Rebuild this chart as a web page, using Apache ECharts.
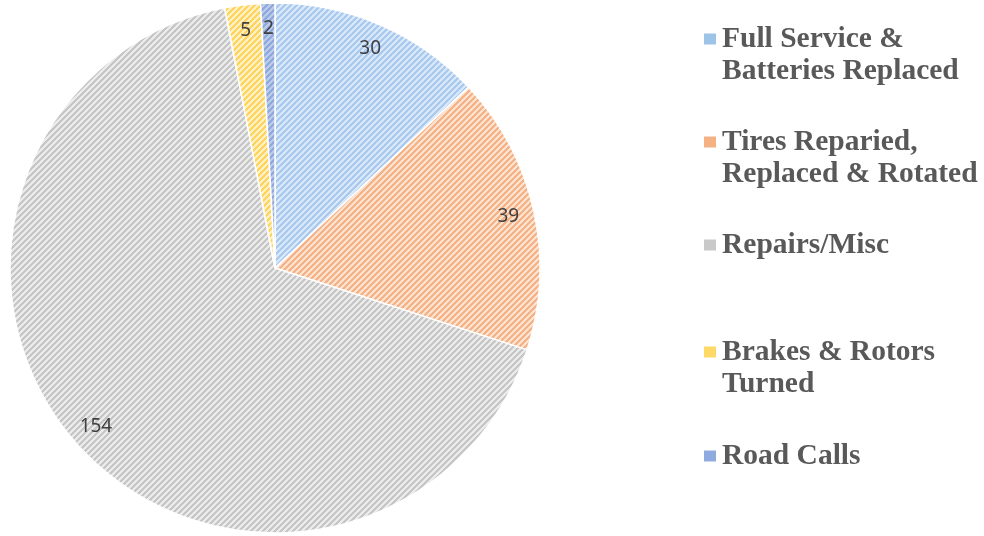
<!DOCTYPE html>
<html>
<head>
<meta charset="utf-8">
<script src="https://cdn.jsdelivr.net/npm/echarts@6/dist/echarts.min.js"></script>
<style>
  html, body { margin: 0; padding: 0; background: #fff; }
  #chart { width: 984px; height: 536px; }
</style>
</head>
<body>
<div id="chart"></div>
<script>
// data
var categories = [
  'Full Service &\nBatteries Replaced',
  'Tires Reparied,\nReplaced & Rotated',
  'Repairs/Misc',
  'Brakes & Rotors\nTurned',
  'Road Calls'
]
var values = [30, 39, 154, 5, 2]

// hatch colours: [stripe, background, legend swatch]
var palette = [
  ['#a9c9ee', '#d9e8f8', '#9dc3e6'],
  ['#f5b287', '#fce2cf', '#f4b183'],
  ['#c6c6c6', '#ebebeb', '#c9c9c9'],
  ['#ffd45e', '#fff1c4', '#ffd966'],
  ['#8eaadc', '#bccbea', '#8faadc']
]
var legendCenters = [39, 142, 245, 352, 456]

function hatch (fg, bg) {
  var size = 6
  var c = document.createElement('canvas')
  c.width = size
  c.height = size
  var ctx = c.getContext('2d')
  ctx.fillStyle = bg
  ctx.fillRect(0, 0, size, size)
  ctx.fillStyle = fg
  for (var x = 0; x < size; x++) {
    for (var y = 0; y < size; y++) {
      if ((x + y) % size < 3) ctx.fillRect(x, y, 1, 1)
    }
  }
  return { image: c, repeat: 'repeat' }
}

var myChart = echarts.init(document.getElementById('chart'))

var pieData = categories.map(function (name, i) {
  return {
    name: name,
    value: values[i],
    itemStyle: { color: hatch(palette[i][0], palette[i][1]) }
  }
})
var labelData = categories.map(function (name, i) {
  return { name: name, value: values[i] }
})

// one legend per entry so the uneven spacing can be kept;
// two-line names get an empty first line so the swatch sits on line one
var lineH = 32
var legends = categories.map(function (name, i) {
  var twoLines = name.indexOf('\n') >= 0
  return {
    orient: 'vertical',
    left: 702,
    top: legendCenters[i] - (twoLines ? 1.5 * lineH : 0.5 * lineH),
    padding: 0,
    itemWidth: 14,
    itemHeight: 13,
    icon: 'rect',
    selectedMode: false,
    data: [{ name: name, itemStyle: { color: palette[i][2] } }],
    formatter: function (n) {
      return n.indexOf('\n') >= 0 ? '\n' + n : n
    },
    textStyle: {
      fontFamily: 'Liberation Serif',
      fontWeight: 'bold',
      fontSize: 29.5,
      lineHeight: lineH,
      color: '#595959'
    }
  }
})

var option = {
  animation: false,
  legend: legends,
  series: [
    {
      name: 'services',
      type: 'pie',
      center: [275, 268],
      radius: [0, 265],
      startAngle: 90,
      clockwise: true,
      label: { show: false },
      labelLine: { show: false },
      itemStyle: { borderColor: '#fff', borderWidth: 1.5 },
      emphasis: { disabled: true },
      data: pieData
    },
    {
      name: 'labels',
      type: 'pie',
      center: [275, 268],
      radius: [207, 265],
      startAngle: 90,
      silent: true,
      z: 5,
      itemStyle: { color: 'rgba(0,0,0,0)', borderWidth: 0 },
      label: {
        show: true,
        position: 'inside',
        formatter: '{c}',
        fontFamily: 'Noto Sans',
        fontSize: 19,
        color: '#404040'
      },
      labelLine: { show: false },
      emphasis: { disabled: true },
      data: labelData
    }
  ]
}
myChart.setOption(option)
</script>
</body>
</html>
